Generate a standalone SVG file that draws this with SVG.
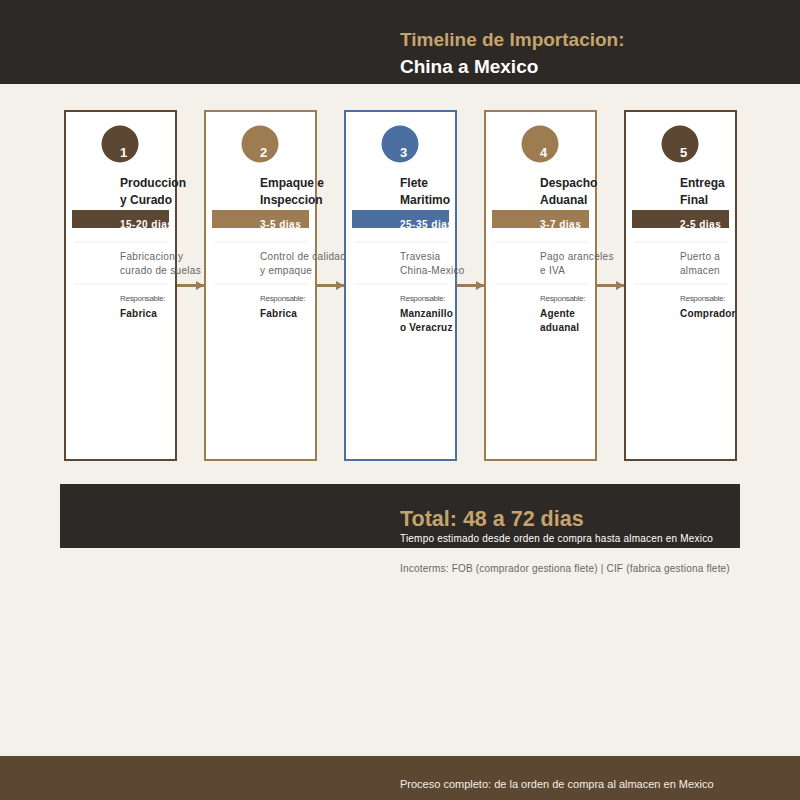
<svg xmlns="http://www.w3.org/2000/svg" width="800" height="800" viewBox="0 0 800 800">
<defs>
<style>
text{font-family:"Liberation Sans",Arial,sans-serif}
.card{fill:#ffffff;stroke-width:2}
.num{fill:#ffffff;font-size:13px;font-weight:bold}
.ttl{fill:#222222;font-size:12px;font-weight:bold}
.dur{fill:#ffffff;font-size:10px;font-weight:bold;letter-spacing:0.5px}
.sep{stroke:#eeeeee;stroke-width:1}
.desc{fill:#666666;font-size:10px;letter-spacing:0.3px}
.resp{fill:#555555;font-size:8px;letter-spacing:-0.3px}
.who{fill:#222222;font-size:10px;font-weight:bold;letter-spacing:0.2px}
.dk{stroke:#5c4733}
.gd{stroke:#9e7c52}
.bl{stroke:#4a6fa0}
.arrow{stroke:#9e7c52;stroke-width:3;fill:none;marker-end:url(#ah)}
</style>
<marker id="ah" markerUnits="userSpaceOnUse" markerWidth="10" markerHeight="10" refX="8" refY="5" orient="auto">
<path d="M0,0.5 L8,5 L0,9.5 Z" fill="#9e7c52"/>
</marker>
</defs>
<rect x="0" y="0" width="800" height="800" fill="#f4f1eb"/>
<g id="header">
<rect x="0" y="0" width="800" height="84" fill="#2d2926"/>
<text x="400" y="46" font-size="19" font-weight="bold" fill="#c4a46c">Timeline de Importacion:</text>
<text x="400" y="73" font-size="19" font-weight="bold" fill="#ffffff">China a Mexico</text>
</g>
<g id="connectors">
<line class="arrow" x1="177" y1="285.5" x2="204" y2="285.5"/>
<line class="arrow" x1="317" y1="285.5" x2="344" y2="285.5"/>
<line class="arrow" x1="457" y1="285.5" x2="484" y2="285.5"/>
<line class="arrow" x1="597" y1="285.5" x2="624" y2="285.5"/>
</g>
<g id="step1">
<rect class="card dk" x="65" y="111" width="111" height="349"/>
<circle cx="120" cy="144" r="18.5" fill="#5c4733"/>
<text class="num" x="120" y="157">1</text>
<text class="ttl" x="120" y="187">Produccion</text>
<text class="ttl" x="120" y="204">y Curado</text>
<rect x="72" y="210" width="97" height="18" fill="#5c4733"/>
<text class="dur" x="120" y="228">15-20 dias</text>
<line class="sep" x1="74" y1="242" x2="168" y2="242"/>
<text class="desc" x="120" y="260">Fabricacion y</text>
<text class="desc" x="120" y="274">curado de suelas</text>
<line class="sep" x1="74" y1="284" x2="168" y2="284"/>
<text class="resp" x="120" y="301">Responsable:</text>
<text class="who" x="120" y="317">Fabrica</text>
</g>
<g id="step2">
<rect class="card gd" x="205" y="111" width="111" height="349"/>
<circle cx="260" cy="144" r="18.5" fill="#9e7c52"/>
<text class="num" x="260" y="157">2</text>
<text class="ttl" x="260" y="187">Empaque e</text>
<text class="ttl" x="260" y="204">Inspeccion</text>
<rect x="212" y="210" width="97" height="18" fill="#9e7c52"/>
<text class="dur" x="260" y="228">3-5 dias</text>
<line class="sep" x1="214" y1="242" x2="308" y2="242"/>
<text class="desc" x="260" y="260">Control de calidad</text>
<text class="desc" x="260" y="274">y empaque</text>
<line class="sep" x1="214" y1="284" x2="308" y2="284"/>
<text class="resp" x="260" y="301">Responsable:</text>
<text class="who" x="260" y="317">Fabrica</text>
</g>
<g id="step3">
<rect class="card bl" x="345" y="111" width="111" height="349"/>
<circle cx="400" cy="144" r="18.5" fill="#4a6fa0"/>
<text class="num" x="400" y="157">3</text>
<text class="ttl" x="400" y="187">Flete</text>
<text class="ttl" x="400" y="204">Maritimo</text>
<rect x="352" y="210" width="97" height="18" fill="#4a6fa0"/>
<text class="dur" x="400" y="228">25-35 dias</text>
<line class="sep" x1="354" y1="242" x2="448" y2="242"/>
<text class="desc" x="400" y="260">Travesia</text>
<text class="desc" x="400" y="274">China-Mexico</text>
<line class="sep" x1="354" y1="284" x2="448" y2="284"/>
<text class="resp" x="400" y="301">Responsable:</text>
<text class="who" x="400" y="317">Manzanillo</text>
<text class="who" x="400" y="331">o Veracruz</text>
</g>
<g id="step4">
<rect class="card gd" x="485" y="111" width="111" height="349"/>
<circle cx="540" cy="144" r="18.5" fill="#9e7c52"/>
<text class="num" x="540" y="157">4</text>
<text class="ttl" x="540" y="187">Despacho</text>
<text class="ttl" x="540" y="204">Aduanal</text>
<rect x="492" y="210" width="97" height="18" fill="#9e7c52"/>
<text class="dur" x="540" y="228">3-7 dias</text>
<line class="sep" x1="494" y1="242" x2="588" y2="242"/>
<text class="desc" x="540" y="260">Pago aranceles</text>
<text class="desc" x="540" y="274">e IVA</text>
<line class="sep" x1="494" y1="284" x2="588" y2="284"/>
<text class="resp" x="540" y="301">Responsable:</text>
<text class="who" x="540" y="317">Agente</text>
<text class="who" x="540" y="331">aduanal</text>
</g>
<g id="step5">
<rect class="card dk" x="625" y="111" width="111" height="349"/>
<circle cx="680" cy="144" r="18.5" fill="#5c4733"/>
<text class="num" x="680" y="157">5</text>
<text class="ttl" x="680" y="187">Entrega</text>
<text class="ttl" x="680" y="204">Final</text>
<rect x="632" y="210" width="97" height="18" fill="#5c4733"/>
<text class="dur" x="680" y="228">2-5 dias</text>
<line class="sep" x1="634" y1="242" x2="728" y2="242"/>
<text class="desc" x="680" y="260">Puerto a</text>
<text class="desc" x="680" y="274">almacen</text>
<line class="sep" x1="634" y1="284" x2="728" y2="284"/>
<text class="resp" x="680" y="301">Responsable:</text>
<text class="who" x="680" y="317">Comprador</text>
</g>
<g id="total">
<rect x="60" y="484" width="680" height="64" fill="#2d2926"/>
<text x="400" y="526" font-size="21.5" font-weight="bold" fill="#c4a46c">Total: 48 a 72 dias</text>
<text x="400" y="542" font-size="10" fill="#ffffff" letter-spacing="0.2">Tiempo estimado desde orden de compra hasta almacen en Mexico</text>
</g>
<text x="400" y="572" font-size="10" fill="#666666" letter-spacing="0.2" font-family="Liberation Sans, Arial, sans-serif">Incoterms: FOB (comprador gestiona flete) | CIF (fabrica gestiona flete)</text>
<g id="footer">
<rect x="0" y="756" width="800" height="44" fill="#5c4733"/>
<text x="400" y="788" font-size="11" fill="#f4efe6">Proceso completo: de la orden de compra al almacen en Mexico</text>
</g>
</svg>
